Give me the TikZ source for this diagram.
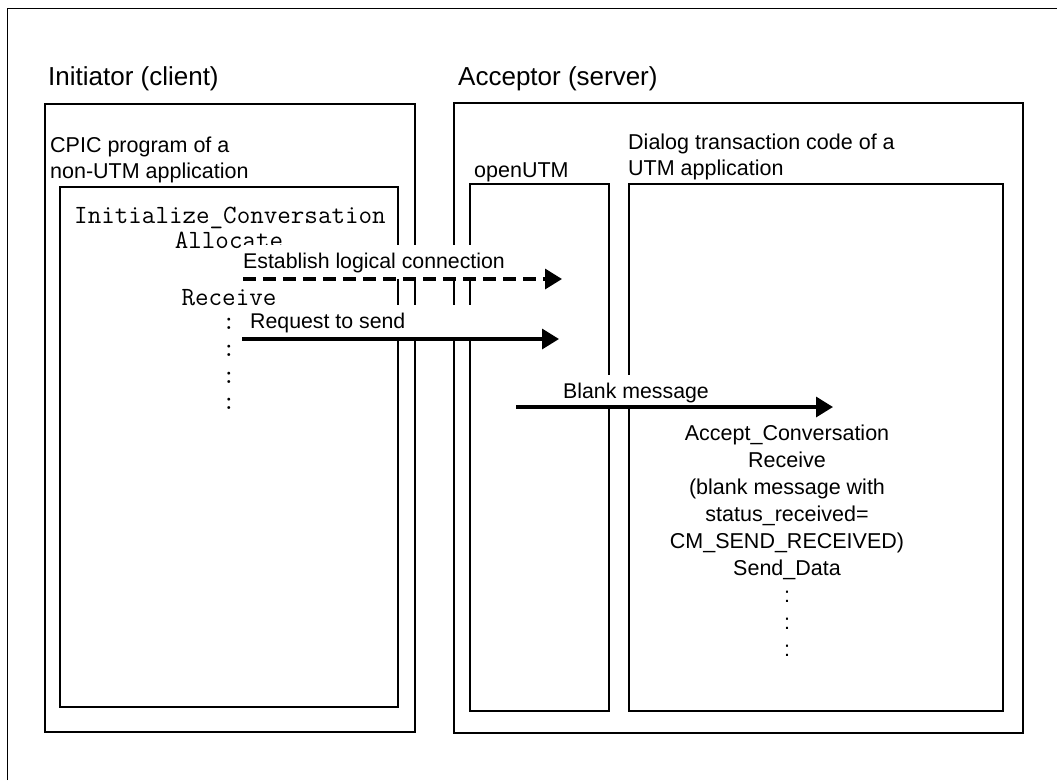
\documentclass[tikz,border=0pt]{standalone}
\usepackage{fontspec}
\setmainfont{Liberation Sans}
\usetikzlibrary{arrows.meta}

\tikzset{
  boxline/.style={line width=1.8pt},
  heading/.style={anchor=base west, inner sep=0pt, font=\fontsize{26}{30}\selectfont},
  boxtext/.style={anchor=base west, inner sep=0pt, font=\fontsize{21.5}{26}\selectfont},
  cpiccall/.style={anchor=base, inner sep=0pt, font=\ttfamily\fontsize{26.3}{27}\selectfont},
  msg/.style={line width=3.3pt, -{Triangle[length=17pt,width=20pt]}},
  msglabel/.style={anchor=base west, inner sep=0pt, font=\fontsize{21.3}{26}\selectfont},
  cover/.style={fill=white},
}

\begin{document}
\begin{tikzpicture}[x=1pt, y=-1pt]
  \useasboundingbox (0,0) rectangle (1057,780);

  % Outer frame (right and bottom edges lie off the page)
  \draw[line width=0.9pt] (7,780) -- (7,8) -- (1057,8);

  % Initiator side
  \node[heading] (initiator) at (48,85) {Initiator (client)};
  \draw[boxline] (45,104) rectangle (415,732);
  \node[boxtext] (cpic) at (50,152) {CPIC program of a};
  \node[boxtext] (nonutm) at (50,178) {non-UTM application};
  \draw[boxline] (60,187) rectangle (398,707);

  % Acceptor side
  \node[heading] (acceptor) at (458,85) {Acceptor (server)};
  \draw[boxline] (454,103) rectangle (1023,733);
  \node[boxtext] (openutm) at (474,177) {openUTM};
  \draw[boxline] (470,184) rectangle (609,711);
  \node[boxtext] (dialog) at (628,149) {Dialog transaction code of a};
  \node[boxtext] (utmapp) at (628,175) {UTM application};
  \draw[boxline] (629,184) rectangle (1003,711);

  % CPIC calls of the client program
  \node[cpiccall] (init) at (230,223) {Initialize\_Conversation};
  \node[cpiccall] (alloc) at (229,248) {Allocate};
  \node[cpiccall] (recv) at (229,305) {Receive};
  \foreach \y [count=\i] in {329,356,383,409}
    \node[cpiccall] (cdot\i) at (229,\y) {:};

  % CPIC calls of the transaction code
  \foreach \t [count=\i] in {Accept\_Conversation, Receive, {(blank message with},
      status\_received=, {CM\_SEND\_RECEIVED)}, Send\_Data, :, :, :}
    \node[boxtext, anchor=base] (acc\i) at (787,{440+27*(\i-1)}) {\t};

  % Establish logical connection
  \coordinate (estS) at (243,279);
  \coordinate (estE) at (562,279);
  \fill[cover] (243,245) rectangle (estE);
  \node[msglabel] (estlabel) at (243,268) {Establish logical connection};
  \draw[msg, dash pattern=on 13pt off 7pt] (estS) -- (estE);

  % Request to send
  \coordinate (reqS) at (242,339);
  \coordinate (reqE) at (559,339);
  \fill[cover] (242,305) rectangle (reqE);
  \node[msglabel] (reqlabel) at (250,328) {Request to send};
  \draw[msg] (reqS) -- (reqE);

  % Blank message
  \coordinate (blkS) at (516,407);
  \coordinate (blkE) at (833,407);
  \fill[cover] (516,375) rectangle (blkE);
  \node[msglabel] (blklabel) at (563,398) {Blank message};
  \draw[msg] (blkS) -- (blkE);
\end{tikzpicture}
\end{document}
